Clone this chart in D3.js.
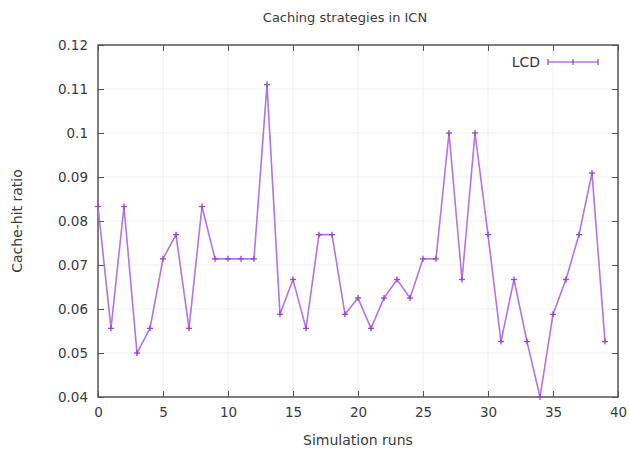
<!DOCTYPE html>
<html><head><meta charset="utf-8">
<script src="https://cdn.jsdelivr.net/npm/d3@7/dist/d3.min.js"></script>
<style>body{margin:0;background:#fff}svg{display:block}</style>
</head><body>
<svg id="c" width="629" height="452"></svg>
<script>
const runs = d3.range(0, 40);
const lcd = [0.0833,0.0556,0.0833,0.05,0.0556,0.0714,0.0769,0.0556,0.0833,0.0714,
             0.0714,0.0714,0.0714,0.111,0.0588,0.0667,0.0556,0.0769,0.0769,0.0588,
             0.0625,0.0556,0.0625,0.0667,0.0625,0.0714,0.0714,0.1,0.0667,0.1,
             0.0769,0.0526,0.0667,0.0526,0.04,0.0588,0.0667,0.0769,0.0909,0.0526];
const xTicks = [0,5,10,15,20,25,30,35,40];
const yTicks = [0.04,0.05,0.06,0.07,0.08,0.09,0.1,0.11,0.12];
const title = "Caching strategies in ICN";
const xLabel = "Simulation runs";
const yLabel = "Cache-hit ratio";
const seriesName = "LCD";

const svg = d3.select("#c");
const L=98, R=618, T=45, B=397;
const col = "#b274e8";
const mcol = "#9448d0";
const x = d3.scaleLinear().domain([0,40]).range([L,R]);
const y = d3.scaleLinear().domain([0.04,0.12]).range([B,T]);
const font = "'DejaVu Sans', sans-serif";

// grid
const g = svg.append("g").attr("stroke","#efefef").attr("stroke-width",1);
xTicks.slice(1,-1).forEach(t=>g.append("line").attr("x1",x(t)).attr("x2",x(t)).attr("y1",T).attr("y2",B));
yTicks.slice(1,-1).forEach(t=>g.append("line").attr("x1",L).attr("x2",R).attr("y1",y(t)).attr("y2",y(t)));

// axes
const fmtY = d=> d===0.1?"0.1":d3.format(".2f")(d);
const ax = (a)=>a.attr("font-family",font).attr("font-size",13.5).call(s=>{s.select(".domain").remove();s.selectAll("line").attr("stroke","#555");s.selectAll("text").attr("fill","#3a3a3a");});
svg.append("g").attr("transform",`translate(0,${B})`).call(d3.axisBottom(x).tickValues(xTicks).tickSize(-6).tickPadding(10)).call(ax);
svg.append("g").attr("transform",`translate(0,${T})`).call(d3.axisTop(x).tickValues(xTicks).tickSize(-6).tickFormat("")).call(ax);
svg.append("g").attr("transform",`translate(${L},0)`).call(d3.axisLeft(y).tickValues(yTicks).tickSize(-6).tickPadding(10).tickFormat(fmtY)).call(ax);
svg.append("g").attr("transform",`translate(${R},0)`).call(d3.axisRight(y).tickValues(yTicks).tickSize(-6).tickFormat("")).call(ax);
svg.append("rect").attr("x",L).attr("y",T).attr("width",R-L).attr("height",B-T).attr("fill","none").attr("stroke","#555").attr("stroke-width",1.5);

// line
const pts = runs.map((r,i)=>[r,lcd[i]]);
svg.append("path").datum(pts).attr("fill","none").attr("stroke",col).attr("stroke-width",1.6)
  .attr("d",d3.line().x(d=>x(d[0])).y(d=>y(d[1])));
const mk = svg.append("g").attr("stroke",mcol).attr("stroke-width",1.3);
pts.forEach(d=>{
  const px=x(d[0]), py=y(d[1]);
  mk.append("line").attr("x1",px-3).attr("x2",px+3).attr("y1",py).attr("y2",py);
  mk.append("line").attr("x1",px).attr("x2",px).attr("y1",py-3).attr("y2",py+3);
});

// legend
svg.append("text").attr("x",540).attr("y",67).attr("text-anchor","end").attr("font-family",font).attr("font-size",14).attr("fill","#3a3a3a").text(seriesName);
svg.append("line").attr("x1",548).attr("x2",598).attr("y1",62).attr("y2",62).attr("stroke",col).attr("stroke-width",1.6);
[548,573,598].forEach(px=>{
  svg.append("line").attr("x1",px).attr("x2",px).attr("y1",59).attr("y2",65).attr("stroke",mcol).attr("stroke-width",1.3);
});

// titles
svg.append("text").attr("x",345).attr("y",22).attr("text-anchor","middle").attr("font-family",font).attr("font-size",13).attr("fill","#3a3a3a").text(title);
svg.append("text").attr("x",358).attr("y",445).attr("text-anchor","middle").attr("font-family",font).attr("font-size",14).attr("fill","#3a3a3a").text(xLabel);
svg.append("text").attr("transform","translate(22,221) rotate(-90)").attr("text-anchor","middle").attr("font-family",font).attr("font-size",14).attr("fill","#3a3a3a").text(yLabel);
</script>
</body></html>
